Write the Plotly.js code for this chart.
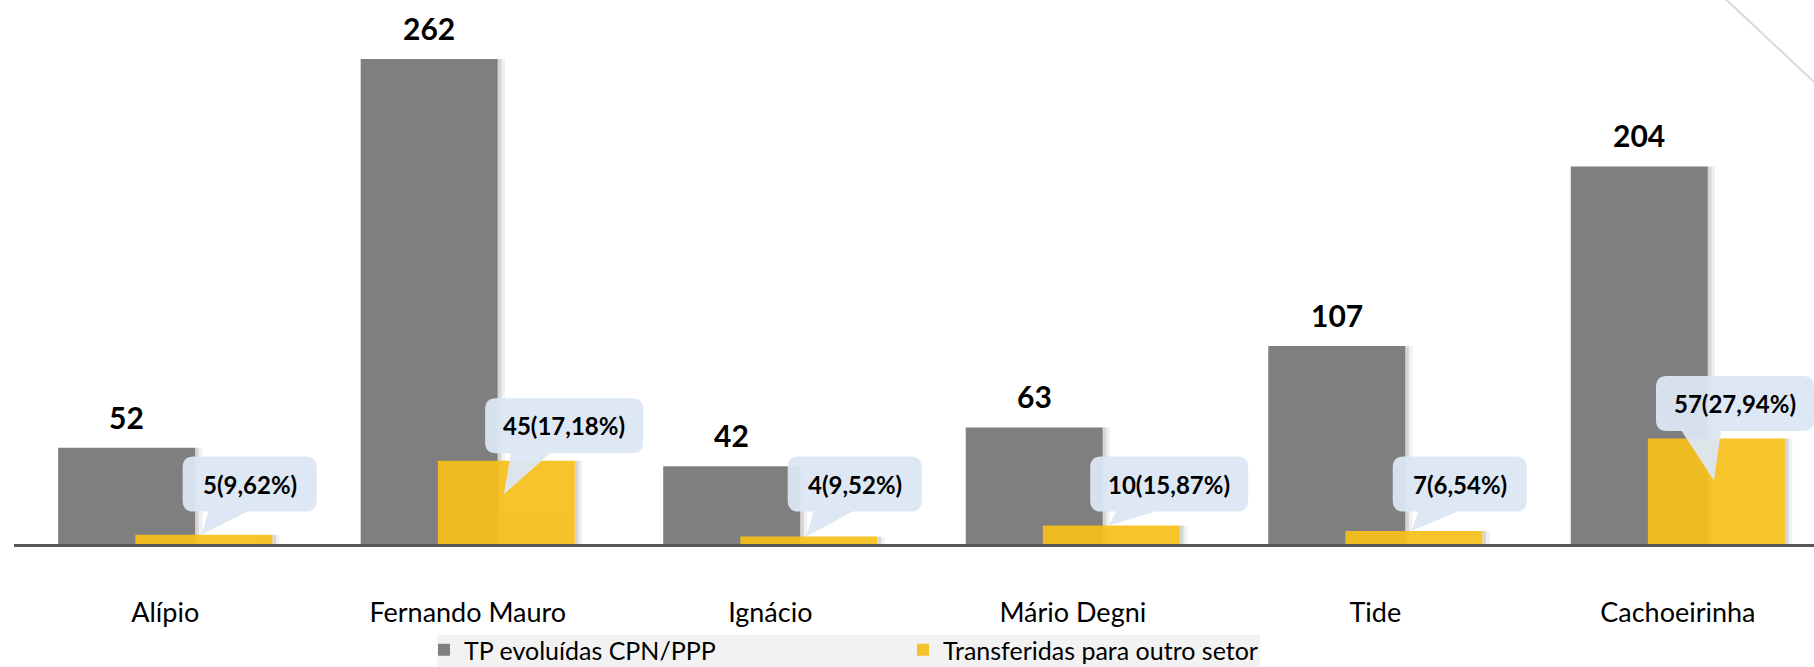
<!DOCTYPE html>
<html>
<head>
<meta charset="utf-8">
<script src="https://cdn.plot.ly/plotly-3.0.1.min.js"></script>
<style>html,body{margin:0;padding:0;background:#fff;}#chart{width:1814px;height:667px;}</style>
</head>
<body>
<div id="chart"></div>
<script>
const categories = ['Alípio', 'Fernando Mauro', 'Ignácio', 'Mário Degni', 'Tide', 'Cachoeirinha'];
const tpEvoluidas = [52, 262, 42, 63, 107, 204];
const transferidas = [5, 45, 4, 10, 7, 57];
const percentLabels = ['9,62%', '17,18%', '9,52%', '15,87%', '6,54%', '27,94%'];
const seriesNames = ['TP evoluídas CPN/PPP', 'Transferidas para outro setor'];

const idx = categories.map((_, i) => i);
const GRAY = '#7f7f7f', YELLOW = '#f6bf1c', CALLOUT = 'rgba(220,231,244,0.95)';
const barW = 0.453, grayOff = -0.354, yelOff = -0.099;
const BASE_PX = 544, PLOT_L = 14, PLOT_W = 1800;
const pxPerUnit = 1.851;
const X_MAX = 5.45, Y_MAX = BASE_PX / pxPerUnit;
const unitPx = PLOT_W / (X_MAX + 0.5);

const traces = [
  {type:'bar', x: idx, y: tpEvoluidas, offset: grayOff + barW, width: 0.012, marker:{color:'rgba(0,0,0,0.16)'}, showlegend:false, hoverinfo:'skip'},
  {type:'bar', x: idx, y: tpEvoluidas, offset: grayOff + barW + 0.012, width: 0.012, marker:{color:'rgba(0,0,0,0.06)'}, showlegend:false, hoverinfo:'skip'},
  {type:'bar', x: idx, y: tpEvoluidas, name: seriesNames[0], offset: grayOff, width: barW, marker:{color: GRAY}},
  {type:'bar', x: idx, y: transferidas, offset: yelOff + barW, width: 0.012, marker:{color:'rgba(0,0,0,0.16)'}, showlegend:false, hoverinfo:'skip'},
  {type:'bar', x: idx, y: transferidas, offset: yelOff + barW + 0.012, width: 0.012, marker:{color:'rgba(0,0,0,0.06)'}, showlegend:false, hoverinfo:'skip'},
  {type:'bar', x: idx, y: transferidas, name: seriesNames[1], offset: yelOff, width: barW, opacity: 0.93, marker:{color: YELLOW}}
];

const annotations = [];
const shapes = [];

// totals above gray bars
tpEvoluidas.forEach((v, i) => {
  annotations.push({x: i + grayOff + barW / 2, y: v, text: String(v), showarrow: false,
    xanchor: 'center', yanchor: 'bottom', yshift: 11,
    font: {family: 'Lato', size: 30, weight: 700, color: '#000'}});
});

// callouts for yellow bars
const boxH = 55 / pxPerUnit, rx = 11 / unitPx, ry = 11 / pxPerUnit;
transferidas.forEach((v, i) => {
  const label = `${v}(${percentLabels[i]})`;
  const boxW = (label.length * 12 + 38) / unitPx;
  const yc = i + yelOff + barW / 2;
  const x0 = Math.min(yc - 0.07, X_MAX - boxW), x1 = x0 + boxW;
  const y0 = v < 20 ? 17.5 : v + 4, y1 = y0 + boxH;
  const tipY = v < 20 ? v : v * 0.6;
  const bx0 = x0 + 0.085, bx1 = x0 + 0.215;
  const path = `M ${x0 + rx},${y0} L ${bx0},${y0} L ${yc - 0.008},${tipY} L ${bx1},${y0} L ${x1 - rx},${y0} ` +
    `Q ${x1},${y0} ${x1},${y0 + ry} L ${x1},${y1 - ry} Q ${x1},${y1} ${x1 - rx},${y1} ` +
    `L ${x0 + rx},${y1} Q ${x0},${y1} ${x0},${y1 - ry} L ${x0},${y0 + ry} Q ${x0},${y0} ${x0 + rx},${y0} Z`;
  shapes.push({type: 'path', xref: 'x', yref: 'y', path: path, fillcolor: CALLOUT, line: {width: 0}, layer: 'above'});
  annotations.push({x: (x0 + x1) / 2, y: (y0 + y1) / 2, text: label, showarrow: false,
    xanchor: 'center', yanchor: 'middle', font: {family: 'Lato', size: 24, weight: 700, color: '#000'}});
});

// decorative diagonal line at top right
const pxToPaperX = p => (p - PLOT_L) / PLOT_W;
const pxToPaperY = p => (BASE_PX - p) / BASE_PX;
shapes.push({type: 'line', xref: 'paper', yref: 'paper', x0: pxToPaperX(1716), y0: pxToPaperY(-10), x1: pxToPaperX(1830), y1: pxToPaperY(97),
  line: {color: '#d9d9d9', width: 2}});

// legend background band
shapes.push({type: 'rect', xref: 'paper', yref: 'paper', layer: 'below',
  x0: pxToPaperX(437), x1: pxToPaperX(1260), y0: pxToPaperY(635), y1: pxToPaperY(700),
  fillcolor: '#f2f2f2', line: {width: 0}});

const layout = {
  width: 1814, height: 667,
  margin: {l: PLOT_L, r: 0, t: 0, b: 667 - BASE_PX, autoexpand: false},
  paper_bgcolor: '#fff', plot_bgcolor: '#fff',
  barmode: 'overlay',
  xaxis: {range: [-0.5, X_MAX], tickvals: idx, ticktext: categories, showgrid: false, zeroline: false,
    showline: true, linecolor: '#595959', linewidth: 3, ticks: '', ticklabelstandoff: 43,
    tickfont: {family: 'Lato', size: 27, color: '#000'}, fixedrange: true},
  yaxis: {range: [0, Y_MAX], visible: false, showgrid: false, zeroline: false, fixedrange: true},
  legend: {orientation: 'h', x: pxToPaperX(424), xanchor: 'left', y: pxToPaperY(627), yanchor: 'top',
    bgcolor: 'rgba(0,0,0,0)', entrywidth: 434, font: {family: 'Lato', size: 25, color: '#000'}, traceorder: 'normal'},
  annotations: annotations,
  shapes: shapes,
  showlegend: true
};

Plotly.newPlot('chart', traces, layout, {displayModeBar: false, staticPlot: true});
</script>
</body>
</html>
